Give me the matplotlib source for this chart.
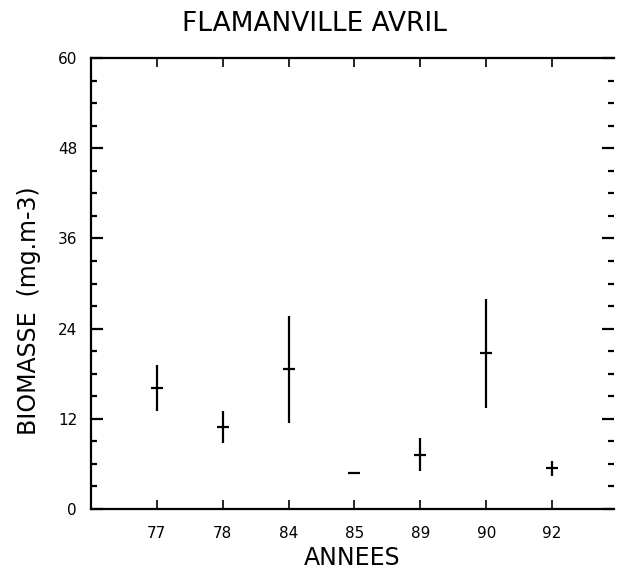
import matplotlib
matplotlib.use("Agg")
import matplotlib.pyplot as plt
import numpy as np

# Biomasse moyenne et bornes par annee de campagne (avril)
annees = ['77', '78', '84', '85', '89', '90', '92']
biomasse = [16.1, 10.9, 18.6, 4.75, 7.2, 20.7, 5.4]
biomasse_min = [13.0, 8.75, 11.5, 4.75, 5.0, 13.4, 4.4]
biomasse_max = [19.2, 13.1, 25.7, 4.75, 9.4, 28.0, 6.4]

W, H = 618, 574
fig = plt.figure(figsize=(W / 100, H / 100), dpi=100)
ax = fig.add_axes([91 / W, 1 - 509 / H, (614 - 91) / W, (509 - 58) / H])

pos = np.arange(1, len(annees) + 1)
moy = np.array(biomasse)
err = [moy - np.array(biomasse_min), np.array(biomasse_max) - moy]
ax.errorbar(pos, moy, yerr=err, fmt='_', color='black', markersize=8,
            markeredgewidth=1.6, elinewidth=1.6, capsize=0)

ax.set_xlim(0, 7.94)
ax.set_ylim(0, 60)
ax.set_xticks(pos)
ax.set_xticklabels(annees)
ax.set_yticks(np.arange(0, 61, 12))
ax.set_yticks(np.arange(0, 61, 3), minor=True)

ax.tick_params(axis='x', direction='in', top=True, length=6.5, width=1.2,
               labelsize=11, pad=12)
ax.tick_params(axis='y', which='major', direction='in', right=True,
               length=8.5, width=1.6, labelsize=11, pad=10)
ax.tick_params(axis='y', which='minor', direction='in', right=True,
               length=4.5, width=1.6)

for s in ['left', 'bottom', 'top']:
    ax.spines[s].set_linewidth(1.6)
ax.spines['right'].set_visible(False)

ax.set_xlabel('ANNEES', fontsize=17, labelpad=4)
ax.set_ylabel('BIOMASSE  (mg.m-3)', fontsize=17)
ax.yaxis.set_label_coords(-0.095, 0.44)
fig.text(314 / W, 1 - 24 / H, 'FLAMANVILLE AVRIL', ha='center', va='center',
         fontsize=19)

fig.savefig('out.png', dpi=100)
